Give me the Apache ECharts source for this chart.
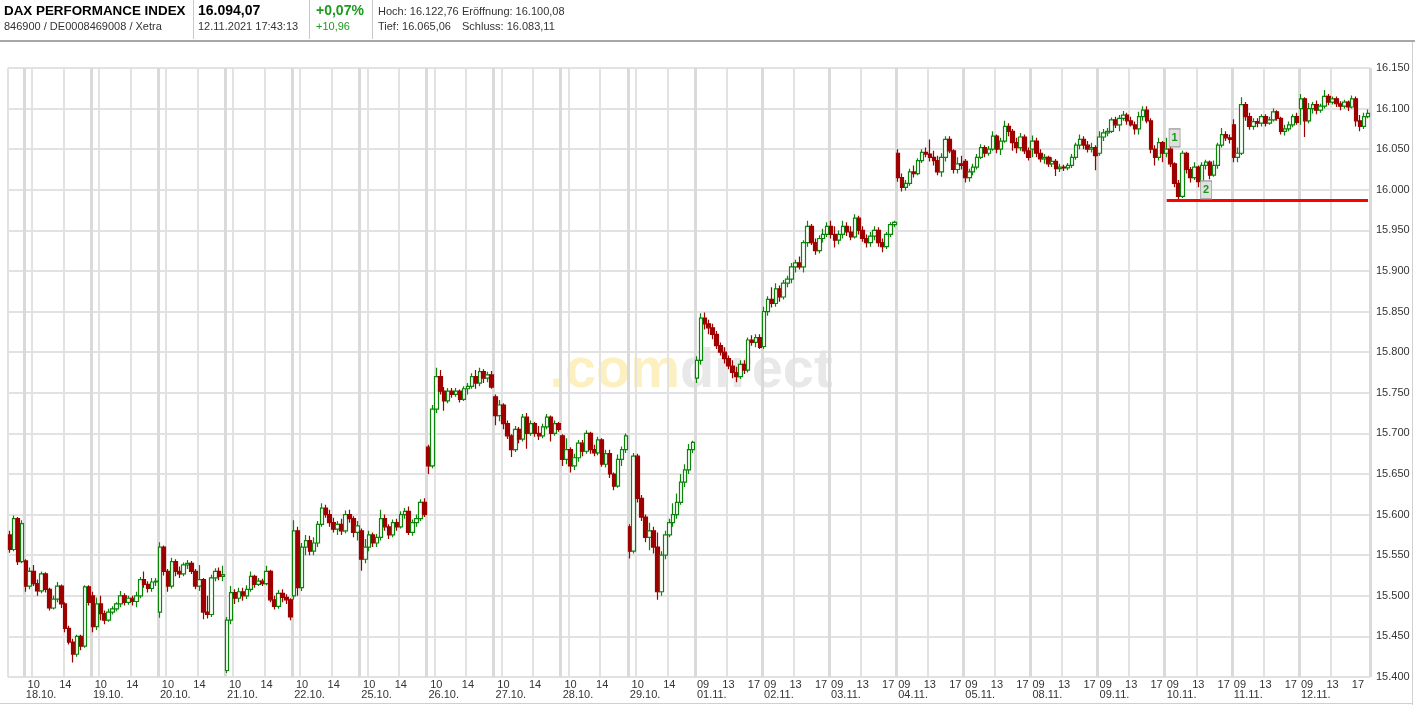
<!DOCTYPE html>
<html>
<head>
<meta charset="utf-8">
<script src="https://cdn.jsdelivr.net/npm/echarts@6/dist/echarts.min.js"></script>
<style>
html,body{margin:0;padding:0;background:#fff;}
#chart{width:1415px;height:705px;}
</style>
</head>
<body>
<div id="chart"></div>
<script>
// ---------- DATA ----------
const dayLabels = ['15.10.','18.10.','19.10.','20.10.','21.10.','22.10.','25.10.','26.10.','27.10.','28.10.','29.10.',
  '01.11.','02.11.','03.11.','04.11.','05.11.','08.11.','09.11.','10.11.','11.11.','12.11.'];
const halfHours = ['09:00','09:30','10:00','10:30','11:00','11:30','12:00','12:30','13:00','13:30','14:00','14:30','15:00','15:30','16:00','16:30','17:00','17:30'];
const partialDayHours = ['15:30','16:00','16:30','17:00'];
const octTickLabels = {'10:00':'10','14:00':'14'};
const novMidLabels = {'13:00':'13'};
const novOpenLabels = {'09:00':'09'};
const novCloseLabels = {'17:00':'17'};

// candles: [open, close, low, high]
const c1510 = [[15575,15557,15553,15580],[15557,15595,15555,15599],[15595,15542,15538,15597],[15542,15589,15540,15593]];
const c1810 = [[15543,15512,15505,15545],[15512,15530,15508,15535],[15530,15515,15512,15538],[15515,15506,15500,15520],[15506,15527,15503,15530],[15527,15508,15504,15529],[15508,15485,15482,15510],[15485,15496,15483,15500],[15496,15512,15492,15517],[15512,15490,15485,15514],[15490,15460,15455,15492],[15460,15443,15440,15463],[15443,15428,15418,15447],[15428,15450,15425,15452],[15450,15438,15433,15452],[15438,15511,15436,15513],[15511,15492,15488,15513]];
const c1910 = [[15500,15462,15455,15505],[15462,15490,15458,15498],[15490,15478,15470,15500],[15478,15470,15465,15482],[15470,15480,15468,15484],[15480,15484,15477,15487],[15484,15490,15481,15492],[15490,15500,15486,15506],[15500,15492,15488,15503],[15492,15497,15489,15500],[15497,15493,15488,15500],[15493,15500,15486,15505],[15500,15520,15497,15523],[15520,15514,15510,15530],[15514,15509,15504,15518],[15509,15517,15505,15522],[15517,15518,15512,15522]];
const c2010 = [[15480,15560,15473,15566],[15560,15530,15525,15562],[15530,15512,15505,15533],[15512,15542,15509,15547],[15542,15530,15524,15545],[15530,15527,15522,15536],[15527,15538,15524,15541],[15538,15540,15533,15544],[15540,15530,15527,15543],[15530,15512,15508,15533],[15512,15520,15506,15538],[15520,15480,15471,15522],[15480,15477,15472,15500],[15477,15522,15474,15526],[15522,15530,15518,15534],[15530,15524,15519,15535],[15524,15526,15518,15537]];
const c2110 = [[15408,15470,15405,15474],[15470,15504,15465,15512],[15504,15497,15490,15508],[15497,15505,15492,15510],[15505,15500,15494,15510],[15500,15508,15496,15513],[15508,15524,15505,15530],[15524,15514,15510,15526],[15514,15518,15512,15522],[15518,15515,15512,15521],[15515,15530,15513,15537],[15530,15495,15492,15532],[15495,15487,15483,15500],[15487,15503,15484,15507],[15503,15498,15492,15508],[15498,15495,15490,15502],[15495,15474,15470,15497]];
const c2210 = [[15500,15580,15495,15593],[15580,15510,15500,15585],[15510,15560,15506,15565],[15560,15568,15550,15575],[15568,15555,15550,15574],[15555,15565,15550,15572],[15565,15588,15560,15592],[15588,15608,15585,15614],[15608,15600,15596,15612],[15600,15590,15585,15606],[15590,15582,15578,15596],[15582,15588,15575,15592],[15588,15580,15575,15595],[15580,15600,15577,15605],[15600,15595,15590,15606],[15595,15578,15572,15598],[15578,15586,15568,15592]];
const c2510 = [[15580,15545,15531,15583],[15545,15560,15540,15570],[15560,15575,15555,15580],[15575,15565,15560,15578],[15565,15572,15560,15576],[15572,15595,15568,15606],[15595,15585,15580,15600],[15585,15575,15570,15588],[15575,15590,15572,15594],[15590,15585,15580,15595],[15585,15600,15583,15604],[15600,15604,15595,15608],[15604,15578,15575,15610],[15578,15590,15574,15594],[15590,15595,15585,15600],[15595,15615,15592,15619],[15615,15600,15597,15620]];
const c2610 = [[15683,15660,15650,15686],[15660,15730,15657,15735],[15730,15770,15725,15781],[15770,15752,15748,15778],[15752,15740,15728,15757],[15740,15752,15737,15756],[15752,15748,15744,15756],[15748,15752,15745,15756],[15752,15742,15738,15754],[15742,15755,15740,15758],[15755,15758,15748,15762],[15758,15770,15755,15774],[15770,15762,15755,15778],[15762,15776,15758,15781],[15776,15768,15762,15779],[15768,15772,15763,15776],[15772,15757,15755,15777]];
const c2710 = [[15745,15722,15710,15748],[15722,15735,15715,15741],[15735,15712,15705,15737],[15712,15697,15693,15716],[15697,15680,15671,15699],[15680,15705,15677,15709],[15705,15693,15688,15708],[15693,15720,15690,15724],[15720,15700,15681,15725],[15700,15712,15697,15716],[15712,15700,15696,15714],[15700,15697,15692,15709],[15697,15708,15694,15712],[15708,15720,15705,15724],[15720,15700,15690,15722],[15700,15712,15697,15716],[15712,15705,15702,15714]];
const c2810 = [[15697,15668,15660,15699],[15668,15680,15662,15694],[15680,15660,15652,15683],[15660,15670,15655,15675],[15670,15688,15665,15692],[15688,15678,15672,15692],[15678,15700,15675,15704],[15700,15680,15675,15702],[15680,15676,15672,15686],[15676,15692,15673,15696],[15692,15662,15659,15694],[15662,15675,15658,15680],[15675,15650,15645,15680],[15650,15635,15630,15652],[15635,15668,15633,15674],[15668,15680,15660,15684],[15680,15697,15676,15700]];
const c2910 = [[15585,15555,15546,15588],[15555,15672,15552,15676],[15672,15620,15615,15675],[15620,15597,15592,15624],[15597,15572,15566,15600],[15572,15580,15556,15590],[15580,15560,15552,15585],[15560,15505,15495,15578],[15505,15550,15500,15555],[15550,15575,15545,15580],[15575,15590,15572,15595],[15590,15600,15585,15614],[15600,15615,15595,15626],[15615,15640,15612,15650],[15640,15655,15634,15662],[15655,15680,15650,15687],[15680,15689,15676,15691]];
const c0111 = [[15768,15790,15762,15795],[15790,15842,15785,15848],[15842,15835,15828,15849],[15835,15830,15822,15840],[15830,15822,15816,15835],[15822,15808,15804,15826],[15808,15800,15796,15812],[15800,15792,15786,15806],[15792,15783,15779,15796],[15783,15775,15768,15790],[15775,15770,15763,15782],[15770,15785,15767,15790],[15785,15778,15773,15790],[15778,15815,15775,15818],[15815,15812,15808,15821],[15812,15818,15806,15822],[15818,15806,15804,15822]];
const c0211 = [[15807,15850,15804,15856],[15850,15865,15845,15869],[15865,15860,15855,15880],[15860,15878,15856,15885],[15878,15868,15862,15882],[15868,15885,15865,15889],[15885,15890,15880,15894],[15890,15905,15885,15910],[15905,15910,15898,15914],[15910,15905,15902,15918],[15905,15935,15898,15938],[15935,15955,15930,15962],[15955,15935,15932,15958],[15935,15925,15920,15940],[15925,15940,15922,15944],[15940,15945,15935,15952],[15945,15955,15942,15960]];
const c0311 = [[15955,15945,15940,15962],[15945,15938,15929,15955],[15938,15945,15933,15950],[15945,15955,15940,15962],[15955,15948,15943,15960],[15948,15942,15938,15955],[15942,15965,15940,15970],[15965,15950,15945,15968],[15950,15940,15936,15955],[15940,15935,15929,15945],[15935,15943,15930,15948],[15943,15950,15938,15955],[15950,15935,15930,15954],[15935,15930,15923,15940],[15930,15945,15927,15948],[15945,15957,15942,15960],[15957,15960,15954,15962]];
const c0411 = [[16045,16015,16010,16050],[16015,16003,15998,16020],[16003,16008,15999,16012],[16008,16022,16005,16026],[16022,16020,16015,16030],[16020,16036,16018,16039],[16036,16046,16033,16050],[16046,16044,16040,16052],[16044,16040,16035,16062],[16040,16036,16030,16048],[16036,16022,16018,16042],[16022,16040,16016,16045],[16040,16062,16035,16066],[16062,16048,16045,16066],[16048,16025,16020,16050],[16025,16032,16020,16040],[16032,16030,16025,16042]];
const c0511 = [[16035,16015,16009,16038],[16015,16022,16010,16026],[16022,16028,16018,16032],[16028,16040,16025,16044],[16040,16052,16038,16056],[16052,16045,16040,16055],[16045,16050,16042,16054],[16050,16066,16048,16072],[16066,16050,16045,16068],[16050,16060,16043,16064],[16060,16078,16058,16085],[16078,16072,16066,16082],[16072,16058,16048,16075],[16058,16052,16045,16064],[16052,16065,16048,16070],[16065,16048,16044,16068],[16048,16040,16036,16052]];
const c0811 = [[16050,16060,16040,16067],[16060,16045,16040,16064],[16045,16038,16034,16050],[16038,16040,16032,16044],[16040,16032,16028,16042],[16032,16035,16028,16040],[16035,16026,16017,16038],[16026,16028,16022,16032],[16028,16027,16023,16031],[16027,16030,16024,16033],[16030,16040,16027,16044],[16040,16055,16037,16058],[16055,16062,16050,16068],[16062,16055,16050,16066],[16055,16050,16046,16060],[16050,16052,16046,16058],[16052,16042,16024,16055]];
const c0911 = [[16045,16065,16042,16072],[16065,16070,16060,16075],[16070,16072,16066,16076],[16072,16086,16070,16089],[16086,16080,16076,16090],[16080,16088,16072,16092],[16088,16092,16085,16097],[16092,16085,16080,16095],[16085,16080,16078,16090],[16080,16075,16068,16084],[16075,16090,16068,16096],[16090,16098,16085,16103],[16098,16085,16082,16103],[16085,16050,16045,16088],[16050,16040,16030,16055],[16040,16058,16036,16064],[16058,16045,16034,16060]];
const c1011 = [[16045,16050,16040,16064],[16050,16032,16028,16055],[16032,16008,16003,16034],[16008,15992,15986,16012],[15992,16045,15990,16048],[16045,16025,16020,16047],[16025,16015,16009,16028],[16015,16028,16012,16034],[16028,16010,16003,16030],[16010,16030,16006,16034],[16030,16034,16025,16037],[16034,16018,16013,16036],[16018,16030,16016,16036],[16030,16055,16026,16058],[16055,16068,16052,16076],[16068,16064,16060,16072],[16064,16062,16057,16068]];
const c1111 = [[16080,16040,16034,16087],[16040,16045,16034,16052],[16045,16105,16043,16114],[16105,16090,16085,16108],[16090,16078,16074,16095],[16078,16084,16074,16088],[16084,16082,16077,16088],[16082,16090,16078,16093],[16090,16082,16078,16093],[16082,16086,16080,16090],[16086,16096,16084,16100],[16096,16088,16085,16098],[16088,16072,16068,16090],[16072,16075,16067,16080],[16075,16080,16072,16084],[16080,16090,16077,16093],[16090,16083,16080,16095]];
const c1211 = [[16100,16112,16080,16118],[16112,16085,16065,16114],[16085,16100,16082,16107],[16100,16105,16094,16108],[16105,16098,16093,16110],[16098,16103,16095,16106],[16103,16115,16100,16123],[16115,16108,16104,16118],[16108,16112,16105,16115],[16112,16106,16102,16115],[16106,16103,16098,16109],[16103,16108,16100,16111],[16108,16102,16097,16110],[16102,16112,16100,16116],[16112,16085,16078,16115],[16085,16078,16072,16092],[16078,16090,16075,16095],[16090,16094,16088,16099]];

const dayCandles = [c1510,c1810,c1910,c2010,c2110,c2210,c2510,c2610,c2710,c2810,c2910,
  c0111,c0211,c0311,c0411,c0511,c0811,c0911,c1011,c1111,c1211];

const supportLevel = 15987;
const supportFrom = '10.11. 09:00';
const supportTo = '12.11. 17:30';
const markers = [{label:'1', at:'10.11. 10:00', value:16064},{label:'2', at:'10.11. 14:00', value:16000}];

const yMin = 15400, yMax = 16150, yStep = 50;

const header = {
  name:'DAX PERFORMANCE INDEX', ids:'846900 / DE0008469008 / Xetra',
  last:'16.094,07', time:'12.11.2021 17:43:13',
  pct:'+0,07%', abs:'+10,96',
  hoch:'Hoch: 16.122,76', eroeff:'Eröffnung: 16.100,08',
  tief:'Tief: 16.065,06', schluss:'Schluss: 16.083,11'
};

// ---------- BUILD ----------
const cats = [], ohlc = [];
const centerLbl = {}, leftLbl = {}, rightLbl = {}, dateLbl = {}, thinLine = {}, dayStart = {};
dayCandles.forEach((arr, d) => {
  const hrs = d === 0 ? partialDayHours : halfHours;
  const isOct = dayLabels[d].endsWith('10.');
  arr.forEach((c, j) => {
    const h = hrs[j];
    const name = dayLabels[d] + ' ' + h;
    cats.push(name); ohlc.push(c);
    if (d === 0) return;
    if (j === 0) { dayStart[name] = true; dateLbl[name] = dayLabels[d]; }
    if (isOct) {
      if (octTickLabels[h]) { centerLbl[name] = octTickLabels[h]; thinLine[name] = true; }
    } else {
      if (novMidLabels[h]) { centerLbl[name] = novMidLabels[h]; thinLine[name] = true; }
      if (novOpenLabels[h]) leftLbl[name] = novOpenLabels[h];
      if (novCloseLabels[h]) rightLbl[name] = novCloseLabels[h];
    }
  });
});
thinLine[cats[0]] = true;

const FONT = '"Liberation Sans", Arial, sans-serif';
const labelBase = {fontFamily: FONT, fontSize: 11, color: '#333'};

function mkX(extra) {
  return Object.assign({
    type:'category', data: cats, gridIndex:0, position:'bottom', boundaryGap:true,
    axisLine:{show:false}, axisTick:{show:false}, splitLine:{show:false}
  }, extra);
}

const chart = echarts.init(document.getElementById('chart'), null, {renderer:'canvas'});
const option = {
  animation:false,
  backgroundColor:'#ffffff',
  grid:{left:8, right:45, top:68, bottom:28, show:true, borderColor:'#dcdcdc', borderWidth:1},
  xAxis:[
    mkX({
      axisLabel:Object.assign({}, labelBase, {margin:2, interval:(i,v)=>centerLbl[v]!==undefined, formatter:(v)=>centerLbl[v]||''}),
      splitLine:{show:true, interval:(i,v)=>!!thinLine[v], lineStyle:{color:'#e2e2e2', width:2}}
    }),
    mkX({
      axisLabel:Object.assign({}, labelBase, {margin:12, align:'left', interval:(i,v)=>dateLbl[v]!==undefined, formatter:(v)=>dateLbl[v]||''}),
      splitLine:{show:true, interval:(i,v)=>!!dayStart[v], lineStyle:{color:'#dadada', width:3}}
    }),
    mkX({
      axisLabel:Object.assign({}, labelBase, {margin:2, align:'left', interval:(i,v)=>leftLbl[v]!==undefined, formatter:(v)=>leftLbl[v]||''})
    }),
    mkX({
      axisLabel:Object.assign({}, labelBase, {margin:2, align:'right', interval:(i,v)=>rightLbl[v]!==undefined, formatter:(v)=>rightLbl[v]||''})
    })
  ],
  yAxis:{
    type:'value', position:'right', min:yMin, max:yMax, interval:yStep, scale:true,
    axisLine:{show:false}, axisTick:{show:false},
    axisLabel:Object.assign({}, labelBase, {margin:6, formatter:(v)=>{const s=String(Math.round(v)); return s.slice(0,s.length-3)+'.'+s.slice(-3);}}),
    splitLine:{show:true, lineStyle:{color:'#e2e2e2', width:2}}
  },
  graphic:[
    {type:'text', x:691, y:372, z:0, silent:true, style:{text:'{a|.com}{b|direct}', align:'center', verticalAlign:'middle',
      rich:{a:{fill:'#fdf0c0', fontSize:56, fontWeight:'bold', fontFamily:FONT}, b:{fill:'#e8e8e8', fontSize:56, fontWeight:'bold', fontFamily:FONT}}}},
    {type:'text', x:4, y:11, style:{text:header.name, font:'bold 13.4px '+FONT, fill:'#000', verticalAlign:'middle'}},
    {type:'text', x:4, y:27, style:{text:header.ids, font:'11px '+FONT, fill:'#333', verticalAlign:'middle'}},
    {type:'text', x:198, y:11, style:{text:header.last, font:'bold 14px '+FONT, fill:'#000', verticalAlign:'middle'}},
    {type:'text', x:198, y:27, style:{text:header.time, font:'11px '+FONT, fill:'#333', verticalAlign:'middle'}},
    {type:'text', x:316, y:11, style:{text:header.pct, font:'bold 14px '+FONT, fill:'#1e9a1e', verticalAlign:'middle'}},
    {type:'text', x:316, y:27, style:{text:header.abs, font:'11px '+FONT, fill:'#1e9a1e', verticalAlign:'middle'}},
    {type:'text', x:378, y:12, style:{text:header.hoch, font:'11px '+FONT, fill:'#333', verticalAlign:'middle'}},
    {type:'text', x:462, y:12, style:{text:header.eroeff, font:'11px '+FONT, fill:'#333', verticalAlign:'middle'}},
    {type:'text', x:378, y:27, style:{text:header.tief, font:'11px '+FONT, fill:'#333', verticalAlign:'middle'}},
    {type:'text', x:462, y:27, style:{text:header.schluss, font:'11px '+FONT, fill:'#333', verticalAlign:'middle'}},
    {type:'line', shape:{x1:193.5,y1:0,x2:193.5,y2:39}, style:{stroke:'#c8c8c8', lineWidth:1}},
    {type:'line', shape:{x1:309.5,y1:0,x2:309.5,y2:39}, style:{stroke:'#c8c8c8', lineWidth:1}},
    {type:'line', shape:{x1:372.5,y1:0,x2:372.5,y2:39}, style:{stroke:'#c8c8c8', lineWidth:1}},
    {type:'line', shape:{x1:0,y1:41,x2:1415,y2:41}, style:{stroke:'#a8a8a8', lineWidth:2}},
    {type:'line', shape:{x1:1412.5,y1:42,x2:1412.5,y2:705}, style:{stroke:'#d0d0d0', lineWidth:1}},
    {type:'line', shape:{x1:0,y1:703.5,x2:1413,y2:703.5}, style:{stroke:'#d0d0d0', lineWidth:1}}
  ],
  series:[{
    type:'candlestick', xAxisIndex:0, yAxisIndex:0, data: ohlc, barWidth:4, z:3,
    itemStyle:{color:'#ffffff', color0:'#9e0000', borderColor:'#0a850a', borderColor0:'#9e0000', borderWidth:1.2},
    markLine:{silent:true, symbol:['none','none'], label:{show:false}, z:4,
      lineStyle:{color:'#ff0000', width:3, type:'solid'},
      data:[[{coord:[supportFrom, supportLevel]},{coord:[supportTo, supportLevel]}]]},
    markPoint:{symbol:'rect', symbolSize:[11,18], silent:true, z:5,
      itemStyle:{color:'#e0e0e0', borderColor:'#9a9a9a', borderWidth:1},
      label:{show:true, formatter:'{b}', color:'#1a9a1a', fontWeight:'bold', fontSize:11, fontFamily:FONT},
      data: markers.map(m=>({name:m.label, coord:[m.at, m.value]}))}
  }]
};
chart.setOption(option);
</script>
</body>
</html>
